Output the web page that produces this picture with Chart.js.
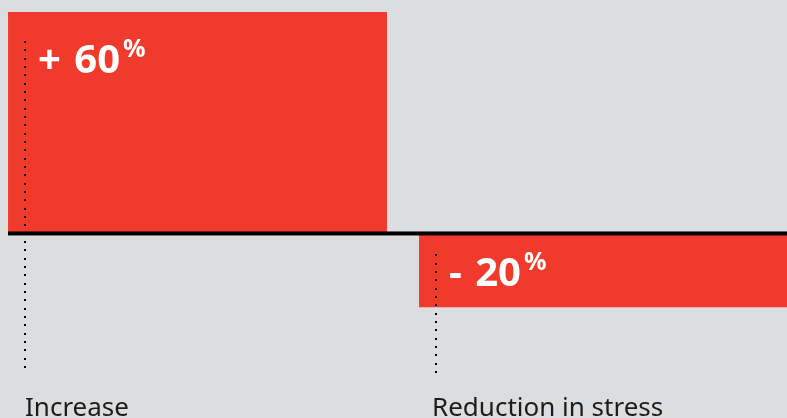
<!DOCTYPE html>
<html>
<head>
<meta charset="utf-8">
<script src="https://cdn.jsdelivr.net/npm/chart.js@4"></script>
<style>
    html, body { margin: 0; padding: 0; background: #dcdddf; }
    #wrap { position: relative; width: 787px; height: 418px; overflow: hidden; }
    #inner { position: absolute; left: -8px; top: 0; width: 822px; height: 418px; }
</style>
</head>
<body>
<div id="wrap"><div id="inner"><canvas id="changeChart" width="822" height="418"></canvas></div></div>
<script>
// Chart data
const categories = ['Increase', 'Reduction in stress'];
const changeValues = [60, -20];
const valueSigns = ['+', '-'];
const valueNumbers = ['60', '20'];
const unitLabel = '%';

const RED = '#f03b2c';
const nameOffsets = [17, 13];

// draws the zero line, dotted markers, value labels and category names
const annotations = {
    id: 'annotations',
    afterDatasetsDraw(chart) {
        const ctx = chart.ctx;
        const meta = chart.getDatasetMeta(0);
        const y0 = chart.scales.y.getPixelForValue(0);
        const area = chart.chartArea;

        ctx.save();
        // baseline
        const firstLeft = meta.data[0].x - meta.data[0].width / 2;
        ctx.fillStyle = '#000';
        ctx.fillRect(firstLeft, y0 - 2, area.right - firstLeft, 4);

        meta.data.forEach(function(bar, i) {
            const left = bar.x - bar.width / 2;
            const textBase = changeValues[i] >= 0 ? Math.min(bar.y, bar.base) + 61 : y0 + 53;

            // dotted marker
            ctx.fillStyle = '#000';
            const lx = Math.round(left + 17) - 1;
            for (let y = textBase - 32; y <= 374; y += 8.33) {
                ctx.fillRect(lx, Math.round(y), 2, 2);
            }

            // value label with superscript unit
            ctx.fillStyle = '#fff';
            ctx.textBaseline = 'alphabetic';
            ctx.textAlign = 'left';
            ctx.font = 'bold 40px "Noto Sans"';
            const tx = left + 30;
            ctx.fillText(valueSigns[i], tx, textBase);
            const nx = tx + ctx.measureText(valueSigns[i] + ' ').width + 3;
            ctx.fillText(valueNumbers[i], nx, textBase);
            const w = ctx.measureText(valueNumbers[i]).width;
            ctx.font = 'bold 25px "Noto Sans"';
            ctx.fillText(unitLabel, nx + w + 3, textBase - 16);

            // category name
            ctx.fillStyle = '#1c1c1c';
            ctx.font = '26px "Noto Sans"';
            ctx.fillText(categories[i], left + nameOffsets[i], 416);
        });
        ctx.restore();
    }
};

new Chart(document.getElementById('changeChart'), {
    type: 'bar',
    data: {
        labels: categories,
        datasets: [{
            data: changeValues,
            backgroundColor: RED,
            borderWidth: 0,
            categoryPercentage: 1,
            barPercentage: 0.922
        }]
    },
    options: {
        responsive: false,
        animation: false,
        devicePixelRatio: 1,
        layout: { padding: { top: 12, bottom: 0, left: 0, right: 0 } },
        plugins: {
            legend: { display: false },
            tooltip: { enabled: false }
        },
        scales: {
            x: { display: false },
            y: { display: false, min: -50, max: 60 }
        }
    },
    plugins: [annotations]
});
</script>
</body>
</html>
